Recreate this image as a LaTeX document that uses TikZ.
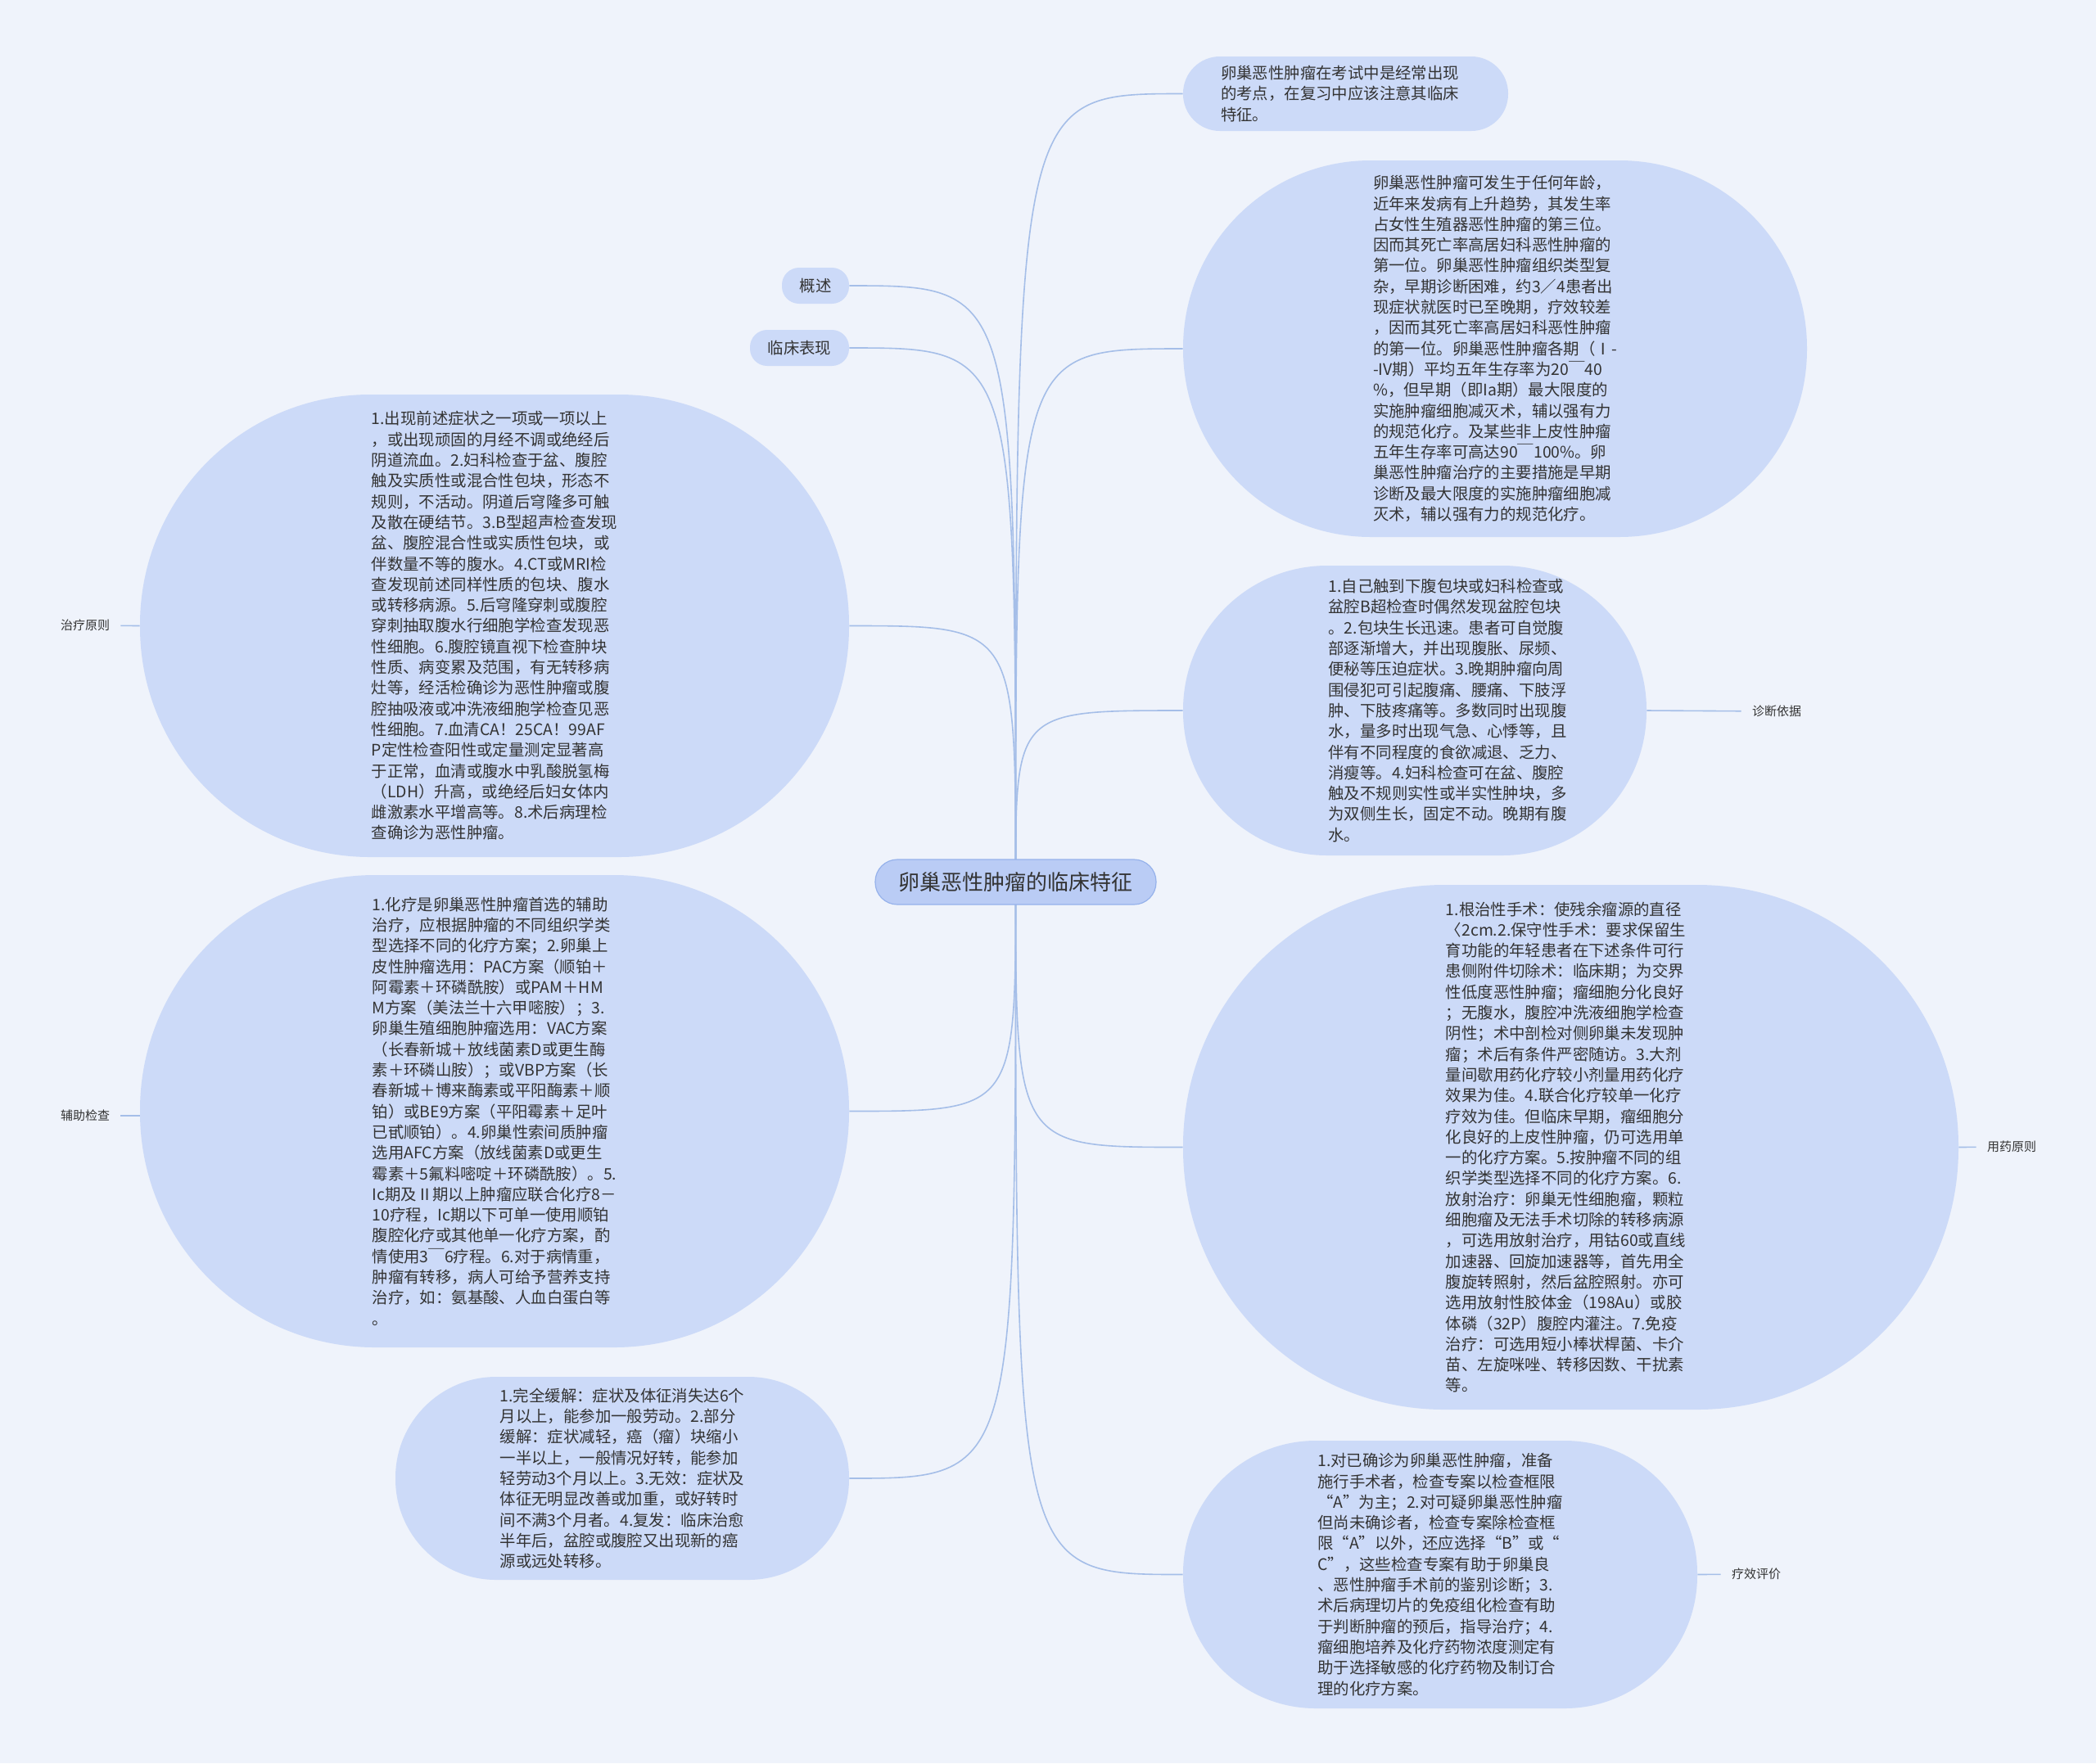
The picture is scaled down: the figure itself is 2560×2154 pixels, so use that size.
\documentclass[tikz,border=0pt]{standalone}
\usepackage{fontspec}
\setmainfont{Noto Sans CJK SC}
\usepackage{xcolor}
\definecolor{paper}{RGB}{239,243,251}
\definecolor{bub}{RGB}{204,218,248}
\definecolor{hubfill}{RGB}{186,204,245}
\definecolor{hubline}{RGB}{150,178,235}
\definecolor{wire}{RGB}{165,190,232}
\definecolor{ink}{RGB}{51,51,51}
\pgfdeclarelayer{paperlayer}
\pgfdeclarelayer{edges}
\pgfsetlayers{paperlayer,edges,main}
\tikzset{
  bubble/.style={fill=bub, text=ink, align=left, inner sep=0pt, font=\fontsize{9.7}{12.65}\selectfont},
  bubtext/.style={text=ink, align=left, inner sep=0pt, font=\fontsize{9.7}{12.65}\selectfont},
  root/.style={fill=hubfill, draw=hubline, line width=0.6pt, text=ink, minimum width=171.5pt, minimum height=27.5pt, rounded corners=13.5pt, font=\fontsize{13}{15}\selectfont},
  tag/.style={text=ink, inner xsep=6.5pt, inner ysep=2pt, font=\fontsize{7.5}{9}\selectfont},
  link/.style={draw=wire, line width=0.8pt},
}

\begin{document}
\begin{tikzpicture}[x=0.5pt,y=-0.5pt]
  \begin{pgfonlayer}{paperlayer}
    \fill[paper] (0,0) rectangle (2560,2154);
  \end{pgfonlayer}
  \useasboundingbox (0,0) rectangle (2560,2154);

  \node[root] (hub) at (1240.5,1077.5) {卵巢恶性肿瘤的临床特征};

  % right side
  \node[bubble, minimum width=198.5pt, minimum height=45.5pt, rounded corners=22.5pt, label={[bubtext, xshift=-3.5pt]center:卵巢恶性肿瘤在考试中是经常出现\\的考点，在复习中应该注意其临床\\特征。}] (exam) at (1643.5,114.5) {};
  \node[bubble, minimum width=381pt, minimum height=230pt, rounded corners=114.5pt] (intro) at (1826,426) {卵巢恶性肿瘤可发生于任何年龄，\\近年来发病有上升趋势，其发生率\\占女性生殖器恶性肿瘤的第三位。\\因而其死亡率高居妇科恶性肿瘤的\\第一位。卵巢恶性肿瘤组织类型复\\杂，早期诊断困难，约3／4患者出\\现症状就医时已至晚期，疗效较差\\，因而其死亡率高居妇科恶性肿瘤\\的第一位。卵巢恶性肿瘤各期（Ⅰ-\\-IV期）平均五年生存率为20￣40\\\%，但早期（即Ia期）最大限度的\\实施肿瘤细胞减灭术，辅以强有力\\的规范化疗。及某些非上皮性肿瘤\\五年生存率可高达90￣100\%。卵\\巢恶性肿瘤治疗的主要措施是早期\\诊断及最大限度的实施肿瘤细胞减\\灭术，辅以强有力的规范化疗。};
  \node[bubble, minimum width=283pt, minimum height=177pt, rounded corners=88pt, label={[bubtext, xshift=20pt]center:1.自己触到下腹包块或妇科检查或\\盆腔B超检查时偶然发现盆腔包块\\。2.包块生长迅速。患者可自觉腹\\部逐渐增大，并出现腹胀、尿频、\\便秘等压迫症状。3.晚期肿瘤向周\\围侵犯可引起腹痛、腰痛、下肢浮\\肿、下肢疼痛等。多数同时出现腹\\水，量多时出现气急、心悸等，且\\伴有不同程度的食欲减退、乏力、\\消瘦等。4.妇科检查可在盆、腹腔\\触及不规则实性或半实性肿块，多\\为双侧生长，固定不动。晚期有腹\\水。}] (diag) at (1728,868) {};
  \node[bubble, minimum width=473.5pt, minimum height=320.5pt, rounded corners=159.5pt, label={[bubtext, xshift=-3pt]center:1.根治性手术：使残余瘤源的直径\\〈2cm.2.保守性手术：要求保留生\\育功能的年轻患者在下述条件可行\\患侧附件切除术：临床期；为交界\\性低度恶性肿瘤；瘤细胞分化良好\\；无腹水，腹腔冲洗液细胞学检查\\阴性；术中剖检对侧卵巢未发现肿\\瘤；术后有条件严密随访。3.大剂\\量间歇用药化疗较小剂量用药化疗\\效果为佳。4.联合化疗较单一化疗\\疗效为佳。但临床早期，瘤细胞分\\化良好的上皮性肿瘤，仍可选用单\\一的化疗方案。5.按肿瘤不同的组\\织学类型选择不同的化疗方案。6.\\放射治疗：卵巢无性细胞瘤，颗粒\\细胞瘤及无法手术切除的转移病源\\，可选用放射治疗，用钴60或直线\\加速器、回旋加速器等，首先用全\\腹旋转照射，然后盆腔照射。亦可\\选用放射性胶体金（198Au）或胶\\体磷（32P）腹腔内灌注。7.免疫\\治疗：可选用短小棒状桿菌、卡介\\苗、左旋咪唑、转移因数、干扰素\\等。}] (drug) at (1918.5,1401.5) {};
  \node[bubble, minimum width=314pt, minimum height=163.5pt, rounded corners=81pt] (check) at (1759,1923.5) {1.对已确诊为卵巢恶性肿瘤，准备\\施行手术者，检查专案以检查框限\\“A”为主；2.对可疑卵巢恶性肿瘤\\但尚未确诊者，检查专案除检查框\\限“A”以外，还应选择“B”或“\\C”，这些检查专案有助于卵巢良\\、恶性肿瘤手术前的鉴别诊断；3.\\术后病理切片的免疫组化检查有助\\于判断肿瘤的预后，指导治疗；4.\\瘤细胞培养及化疗药物浓度测定有\\助于选择敏感的化疗药物及制订合\\理的化疗方案。};

  % left side
  \node[bubble, minimum width=41pt, minimum height=22pt, rounded corners=10.5pt, align=center] (over) at (996,349) {概述};
  \node[bubble, minimum width=60.5pt, minimum height=22pt, rounded corners=10.5pt, align=center] (clin) at (976.5,425) {临床表现};
  \node[bubble, minimum width=433pt, minimum height=282.5pt, rounded corners=140.5pt] (sym) at (604,764.5) {1.出现前述症状之一项或一项以上\\，或出现顽固的月经不调或绝经后\\阴道流血。2.妇科检查于盆、腹腔\\触及实质性或混合性包块，形态不\\规则，不活动。阴道后穹隆多可触\\及散在硬结节。3.B型超声检查发现\\盆、腹腔混合性或实质性包块，或\\伴数量不等的腹水。4.CT或MRI检\\查发现前述同样性质的包块、腹水\\或转移病源。5.后穹隆穿刺或腹腔\\穿刺抽取腹水行细胞学检查发现恶\\性细胞。6.腹腔镜直视下检查肿块\\性质、病变累及范围，有无转移病\\灶等，经活检确诊为恶性肿瘤或腹\\腔抽吸液或冲洗液细胞学检查见恶\\性细胞。7.血清CA！25CA！99AF\\P定性检查阳性或定量测定显著高\\于正常，血清或腹水中乳酸脱氢梅\\（LDH）升高，或绝经后妇女体内\\雌激素水平增高等。8.术后病理检\\查确诊为恶性肿瘤。};
  \node[bubble, minimum width=433pt, minimum height=288.5pt, rounded corners=143.5pt] (chemo) at (604,1357.5) {1.化疗是卵巢恶性肿瘤首选的辅助\\治疗，应根据肿瘤的不同组织学类\\型选择不同的化疗方案；2.卵巢上\\皮性肿瘤选用：PAC方案（顺铂＋\\阿霉素＋环磷酰胺）或PAM＋HM\\M方案（美法兰十六甲嘧胺）；3.\\卵巢生殖细胞肿瘤选用：VAC方案\\（长春新城＋放线菌素D或更生酶\\素＋环磷山胺）；或VBP方案（长\\春新城＋博来酶素或平阳酶素＋顺\\铂）或BE9方案（平阳霉素＋足叶\\已甙顺铂）。4.卵巢性索间质肿瘤\\选用AFC方案（放线菌素D或更生\\霉素＋5氟料嘧啶＋环磷酰胺）。5.\\Ic期及Ⅱ期以上肿瘤应联合化疗8－\\10疗程，Ic期以下可单一使用顺铂\\腹腔化疗或其他单一化疗方案，酌\\情使用3￣6疗程。6.对于病情重，\\肿瘤有转移，病人可给予营养支持\\治疗，如：氨基酸、人血白蛋白等\\。};
  \node[bubble, minimum width=277pt, minimum height=124pt, rounded corners=61.5pt] (resp) at (760,1806) {1.完全缓解：症状及体征消失达6个\\月以上，能参加一般劳动。2.部分\\缓解：症状减轻，癌（瘤）块缩小\\一半以上，一般情况好转，能参加\\轻劳动3个月以上。3.无效：症状及\\体征无明显改善或加重，或好转时\\间不满3个月者。4.复发：临床治愈\\半年后，盆腔或腹腔又出现新的癌\\源或远处转移。};

  % side tags
  \node[tag] (tZl) at (104,764) {治疗原则};
  \node[tag] (tFz) at (104,1363) {辅助检查};
  \node[tag] (tZd) at (2170,869) {诊断依据};
  \node[tag] (tYy) at (2457,1401) {用药原则};
  \node[tag] (tLx) at (2145,1923) {疗效评价};

  \begin{pgfonlayer}{edges}
    \foreach \n in {exam,intro,diag,drug,check}
      \draw[link] (hub.center) .. controls (hub.center |- \n.west) .. (\n.west);
    \foreach \n in {over,clin,sym,chemo,resp}
      \draw[link] (hub.center) .. controls (hub.center |- \n.east) .. (\n.east);
    \draw[link] (tZl) -- (sym.west);
    \draw[link] (tFz) -- (tFz -| chemo.west);
    \draw[link] (diag.east) -- (tZd);
    \draw[link] (drug.east) -- (tYy);
    \draw[link] (check.east) -- (tLx);
  \end{pgfonlayer}
\end{tikzpicture}
\end{document}
